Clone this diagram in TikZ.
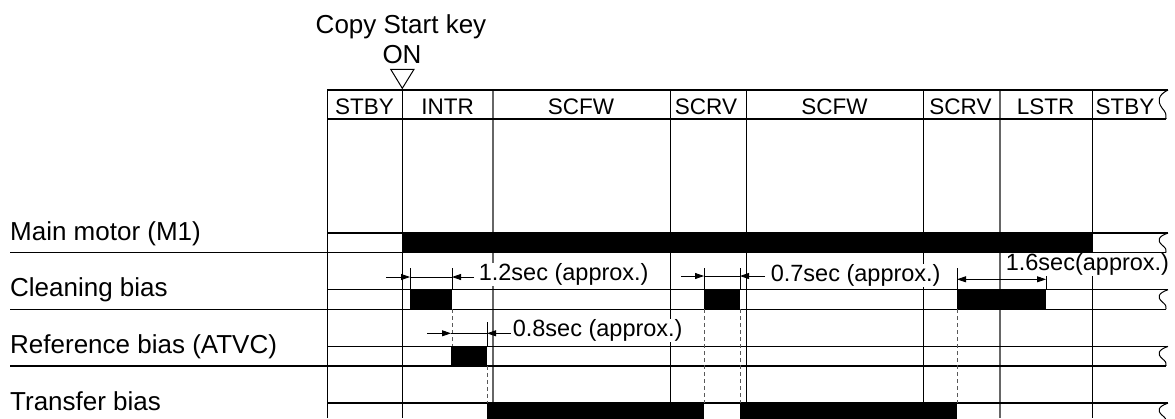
\documentclass[tikz,border=0pt]{standalone}
\usepackage{fontspec}
\setmainfont{Liberation Sans}
\usetikzlibrary{arrows.meta}

\begin{document}
\begin{tikzpicture}[x=1pt,y=-1pt,
  gridline/.style={line width=1pt},
  rowline/.style={line width=1.4pt},
  sigbar/.style={fill=black},
  guide/.style={black!65,line width=1pt,dash pattern=on 4pt off 3pt},
  dimtip/.style={line width=0.8pt,-{Triangle[length=9pt,width=6pt]}},
  headtxt/.style={anchor=base,font=\fontsize{22.5}{26}\selectfont},
  sigtxt/.style={anchor=base west,inner sep=0pt,font=\fontsize{26}{30}\selectfont},
  timetxt/.style={anchor=base west,fill=white,inner sep=0.6pt,font=\fontsize{23.5}{27}\selectfont}]
  \useasboundingbox (0,0) rectangle (1175,418);
  \clip (0,0) rectangle (1175,418);

  % key press
  \node[anchor=base,font=\fontsize{26}{30}\selectfont] (key) at (401,33) {Copy Start key};
  \node[anchor=base,font=\fontsize{26}{30}\selectfont] (on) at (402,63) {ON};
  \draw[line width=1pt] (390.7,69.3) -- (414,69.3) -- (402.3,88.3) -- cycle;

  % table columns
  \foreach \x in {327,402,670,746,923,1092} \draw[gridline] (\x,90) -- (\x,418);
  \foreach \x in {493,1000} \draw[gridline,black!60,line width=1.2pt] (\x,90) -- (\x,418);

  % header row with break
  \draw[rowline] (327,90) -- (1168,90);
  \draw[rowline] (327,119) -- (1166,119);
  \draw[line width=1pt] (1168,90) .. controls (1158,95) and (1157,101) .. (1162,108) .. controls (1166,113) .. (1166,119);
  \foreach \lbl/\x in {STBY/364.5,INTR/447.5,SCFW/581,SCRV/706,SCFW/834.5,SCRV/960.5,LSTR/1045.5,STBY/1125}
    \node[headtxt] (h-\x) at (\x,114) {\lbl};

  % signal strips with break
  \foreach \t in {233,289.7,346.4,403.1}{
    \draw[rowline] (327,\t) -- (1168,\t);
    \draw[rowline] (10,\t+19.5) -- (1166,\t+19.5);
    \draw[line width=1pt] (1168,\t) .. controls (1158,\t+3.5) and (1157,\t+7.5) .. (1162,\t+12) .. controls (1166,\t+15.5) .. (1166,\t+19.5);
  }
  \node[sigtxt] (motor) at (10,240) {Main motor (M1)};
  \node[sigtxt] (clean) at (10,296.3) {Cleaning bias};
  \node[sigtxt] (refer) at (10,353) {Reference bias (ATVC)};
  \node[sigtxt] (trans) at (10,410) {Transfer bias};

  % ON periods
  \fill[sigbar] (402,233) rectangle (1092,252.5);
  \fill[sigbar] (410,289.7) rectangle (452,309.2);
  \fill[sigbar] (704,289.7) rectangle (740,309.2);
  \fill[sigbar] (957,289.7) rectangle (1046,309.2);
  \fill[sigbar] (451,346.4) rectangle (487,365.9);
  \fill[sigbar] (486.5,403.1) rectangle (704,422.6);
  \fill[sigbar] (740,403.1) rectangle (957,422.6);

  % timing guides
  \draw[guide] (452,309.2) -- (452,346.4);
  \draw[guide] (487,365.9) -- (487,403.1);
  \foreach \x in {704,740,957} \draw[guide] (\x,309.2) -- (\x,403.1);

  % dimensions
  \foreach \x/\y in {410/268,452/268,704/268,740/268,957/268,1046/275,487/322}
    \draw[line width=0.8pt] (\x,\y) -- (\x,{\y<300 ? 289.7 : 346.4});
  \draw[line width=0.8pt] (410,277) -- (452,277);
  \draw[dimtip] (386,277) -- (410,277);
  \draw[dimtip] (474,277) -- (452,277);
  \draw[line width=0.8pt] (451,333.3) -- (487,333.3);
  \draw[dimtip] (427,333.3) -- (451,333.3);
  \draw[dimtip] (511,333.3) -- (487,333.3);
  \draw[line width=0.8pt] (704,276) -- (740,276);
  \draw[dimtip] (681,276) -- (704,276);
  \draw[dimtip] (765,276) -- (740,276);
  \draw[dimtip,{Triangle[length=9pt,width=6pt]}-{Triangle[length=9pt,width=6pt]}] (957,279.3) -- (1046,279.3);

  \node[timetxt] (t12) at (478,280.5) {1.2sec (approx.)};
  \node[timetxt] (t08) at (512,336.5) {0.8sec (approx.)};
  \node[timetxt] (t07) at (770,281.5) {0.7sec (approx.)};
  \node[timetxt] (t16) at (1005,270.5) {1.6sec(approx.)};
\end{tikzpicture}
\end{document}
